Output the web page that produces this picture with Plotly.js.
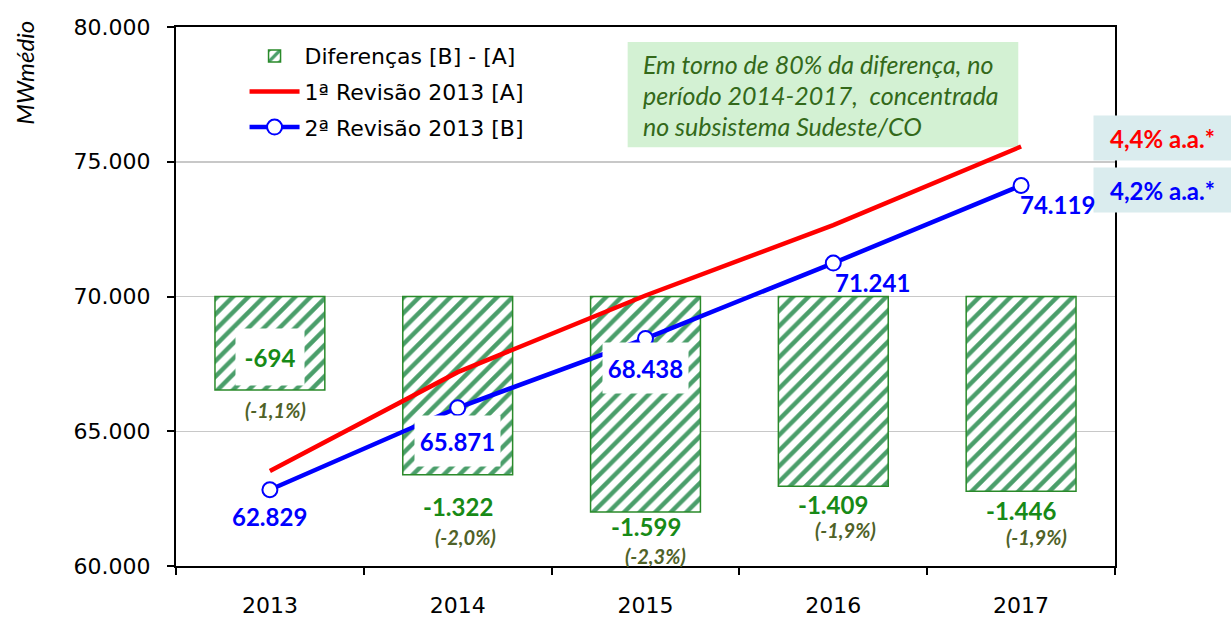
<!DOCTYPE html>
<html><head><meta charset="utf-8">
<script src="https://cdn.plot.ly/plotly-3.0.1.min.js"></script>
<style>html,body{margin:0;padding:0;background:#fff}</style>
</head><body><div id="chart" style="width:1231px;height:619px"></div>
<script>
// ---- data ----
const years   = ['2013', '2014', '2015', '2016', '2017'];
const revA    = [63523, 67193, 70037, 72650, 75565];   // 1ª Revisão 2013 [A]
const revB    = [62829, 65871, 68438, 71241, 74119];   // 2ª Revisão 2013 [B]
const diffBA  = [-694, -1322, -1599, -1409, -1446];    // Diferenças [B] - [A]
const diffPct = [-1.1, -2.0, -2.3, -1.9, -1.9];        // % diferença
const growthA = '4,4% a.a.*';
const growthB = '4,2% a.a.*';
const noteLines = ['Em torno de 80% da diferença, no',
                   'período 2014-2017,  concentrada',
                   'no subsistema Sudeste/CO'];

// ---- label placement (pixel offsets, style only) ----
const blueOff = [[0,-27],[0,-33],[0,-29],[39,-19],[36,-19]];
const blueBox = [false, true, true, false, false];
const diffOff = [[0,33],[0,-32],[0,-15],[0,-18],[0,-19]];
const pctOff  = [[6,-20],[8,-62],[10,-44],[12,-44],[15,-46]];

function fmtNum(n) {
  const s = Math.abs(n).toString().replace(/\B(?=(\d{3})+(?!\d))/g, '.');
  return (n < 0 ? '-' : '') + s;
}
function fmtPct(p) { return '(' + p.toFixed(1).replace('.', ',') + '%)'; }

const CAL = 'Lato, "Open Sans", sans-serif';
const VER = '"DejaVu Sans", Verdana, sans-serif';
const GREEN = '#178a17';
const OLIVE = '#4f6228';

const traces = [
  {
    type: 'bar', name: 'Diferenças [B] - [A]', x: years, y: diffBA,
    xaxis: 'x', yaxis: 'y', legendgroup: 'g1',
    marker: {color: '#ffffff', line: {color: '#2a8a2a', width: 1.5},
             pattern: {shape: '/', fgcolor: '#4a9e6a', bgcolor: '#ffffff', size: 11, solidity: 0.4}},
    hoverinfo: 'skip'
  },
  {
    type: 'scatter', mode: 'lines', name: '1ª Revisão 2013 [A]', x: years, y: revA,
    xaxis: 'x', yaxis: 'y2', legendgroup: 'g2', line: {color: '#ff0000', width: 4.5}, hoverinfo: 'skip'
  },
  {
    type: 'scatter', mode: 'lines+markers', name: '2ª Revisão 2013 [B]', x: years, y: revB,
    xaxis: 'x', yaxis: 'y2', legendgroup: 'g3', line: {color: '#0000ff', width: 4.5},
    marker: {size: 15, color: '#ffffff', line: {color: '#0000ff', width: 2}}, hoverinfo: 'skip'
  }
];

const annotations = [];
// growth boxes (first, so value labels sit on top)
[[growthA, '#ff0000', 0.794], [growthB, '#0000ff', 0.698]].forEach(g => {
  annotations.push({xref: 'paper', yref: 'paper', x: 1.0506, y: g[2], xanchor: 'center', yanchor: 'middle',
    text: g[0], showarrow: false, width: 137, height: 44, borderpad: 0, bgcolor: '#daecee',
    font: {family: CAL, size: 24, color: g[1], weight: 'bold'}});
});
// blue value labels (x given as category index)
revB.forEach((v, i) => {
  const a = {x: i, y: v, xref: 'x', yref: 'y2', text: fmtNum(v), showarrow: false,
    xshift: blueOff[i][0], yshift: blueOff[i][1],
    font: {family: CAL, size: 24, color: '#0000ff', weight: 'bold'}};
  if (blueBox[i]) { a.bgcolor = '#ffffff'; a.width = 85; a.height = 50; a.borderpad = 0; }
  annotations.push(a);
});
// difference labels
diffBA.forEach((v, i) => {
  const a = {x: i, y: v, xref: 'x', yref: 'y', text: fmtNum(v), showarrow: false,
    xshift: diffOff[i][0], yshift: diffOff[i][1],
    font: {family: CAL, size: 24, color: GREEN, weight: 'bold'}};
  if (i === 0) { a.bgcolor = '#ffffff'; a.width = 68; a.height = 56; a.borderpad = 0; }
  annotations.push(a);
  annotations.push({x: i, y: v, xref: 'x', yref: 'y', text: fmtPct(diffPct[i]), showarrow: false,
    xshift: pctOff[i][0], yshift: pctOff[i][1],
    font: {family: CAL, size: 20, color: OLIVE, weight: 'bold', style: 'italic'}});
});
// note text
noteLines.forEach((t, i) => {
  annotations.push({xref: 'paper', yref: 'paper', x: 0.4955, y: 0.932 - i * 0.0575,
    xanchor: 'left', yanchor: 'middle', text: t, showarrow: false,
    font: {family: CAL, size: 25, color: '#33691a', style: 'italic'}});
});
// y title
annotations.push({xref: 'paper', yref: 'paper', x: -0.161, y: 0.915, text: 'MWmédio', textangle: -90,
  showarrow: false, xanchor: 'center', yanchor: 'middle',
  font: {family: CAL, size: 24, color: '#000000', style: 'italic'}});

const layout = {
  width: 1231, height: 619,
  margin: {l: 176, r: 116, t: 27, b: 53},
  paper_bgcolor: '#ffffff', plot_bgcolor: '#ffffff',
  separators: ',.',
  showlegend: true,
  bargap: 0.415,
  legend: {x: 0.073, y: 0.985, xanchor: 'left', yanchor: 'top', bgcolor: 'rgba(0,0,0,0)',
    font: {family: VER, size: 22, color: '#000000'}, itemwidth: 50, tracegroupgap: 4,
    traceorder: 'grouped'},
  xaxis: {type: 'category', showline: true, linecolor: '#000000', linewidth: 2, mirror: true,
    ticks: 'outside', tickson: 'boundaries', ticklen: 7, tickcolor: '#000000', tickwidth: 2,
    ticklabelstandoff: 19, tickfont: {family: VER, size: 22, color: '#000000'}, showgrid: false},
  yaxis: {range: [-2000, 2000], visible: false, showgrid: false, zeroline: false, fixedrange: true},
  yaxis2: {overlaying: 'y', side: 'left', range: [60000, 80000], dtick: 5000, tickformat: ',.0f',
    showgrid: true, gridcolor: '#c8c8c8', gridwidth: 1.5, zeroline: false,
    showline: true, linecolor: '#000000', linewidth: 2, mirror: true,
    ticks: 'outside', ticklen: 7, tickcolor: '#000000', tickwidth: 2, ticklabelstandoff: 12,
    tickfont: {family: VER, size: 22, color: '#000000'}},
  shapes: [{type: 'rect', xref: 'paper', yref: 'paper', x0: 0.481, x1: 0.897, y0: 0.777, y1: 0.972,
    fillcolor: '#d3f1d3', line: {width: 0}, layer: 'below'}],
  annotations: annotations
};

Plotly.newPlot('chart', traces, layout, {displayModeBar: false, staticPlot: true});
</script></body></html>
